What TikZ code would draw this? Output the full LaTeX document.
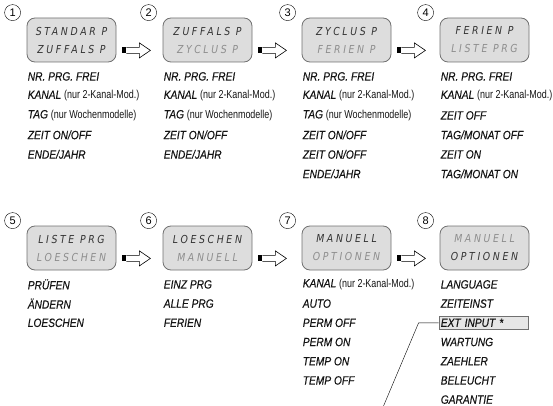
\documentclass[tikz,border=0pt]{standalone}
\usepackage{fontspec}
\setmainfont{Liberation Sans}
\newfontfamily\dispfont[LetterSpace=24,FakeStretch=0.85]{DejaVu Sans}
\newfontfamily\menufont[FakeStretch=0.85,FakeBold=0.4]{Liberation Sans}
\newfontfamily\notefont[FakeStretch=0.78]{Liberation Sans}
\usetikzlibrary{positioning}

\definecolor{lcdfill}{HTML}{DDDDDD}
\definecolor{lcdrim}{HTML}{707070}
\definecolor{segdark}{HTML}{333333}
\definecolor{seglight}{HTML}{8E8E8E}
\definecolor{extfill}{HTML}{E6E6E6}

\newcommand{\liton}[1]{{\color{segdark}#1}}
\newcommand{\litoff}[1]{{\color{seglight}#1}}
\newcommand{\aside}[1]{{\notefont\upshape\fontsize{11.5}{12}\selectfont #1}}

\tikzset{
  lcd/.style={draw=lcdrim, fill=lcdfill, line width=0.8pt, rounded corners=8pt,
    minimum width=89pt, minimum height=44pt, inner sep=0pt, align=center,
    font=\dispfont\itshape\fontsize{11}{18}\selectfont},
  stepnum/.style={circle, draw, fill=white, thin, minimum size=16pt,
    inner sep=0pt, font=\fontsize{11}{11}\selectfont},
  menu/.style={anchor=west, inner sep=0pt, text=black!92,
    font=\menufont\itshape\fontsize{12}{12}\selectfont},
  nextarrow/.pic={
    \fill[black] (0pt,-3pt) rectangle (4pt,3pt);
    \draw[line width=0.6pt, fill=white]
      (4pt,3pt) -- (17pt,3pt) -- (17pt,7.5pt) -- (28pt,0pt)
      -- (17pt,-7.5pt) -- (17pt,-3pt) -- (4pt,-3pt);
  }
}

\begin{document}
\begin{tikzpicture}[x=1pt, y=-1pt]
  \useasboundingbox (0,0) rectangle (553,406);
  % ============= Row 1: displays 1-4 =============
  \node[lcd] (d1) at (71.5,40)  {\liton{STANDAR P}\\\liton{ZUFFALS P}};
  \node[lcd] (d2) at (207.5,40) {\liton{ZUFFALS P}\\\litoff{ZYCLUS P}};
  \node[lcd] (d3) at (346.5,40) {\liton{ZYCLUS P}\\\litoff{FERIEN P}};
  \node[lcd] (d4) at (484.5,40) {\liton{FERIEN P}\\\litoff{LISTE PRG}};
  % ============= Row 2: displays 5-8 =============
  \node[lcd] (d5) at (71.5,248)  {\liton{LISTE PRG}\\\litoff{LOESCHEN}};
  \node[lcd] (d6) at (207.5,248) {\liton{LOESCHEN}\\\litoff{MANUELL}};
  \node[lcd] (d7) at (346.5,248) {\liton{MANUELL}\\\litoff{OPTIONEN}};
  \node[lcd] (d8) at (484.5,248) {\litoff{MANUELL}\\\liton{OPTIONEN}};
  % step numbers
  \foreach \k in {1,...,8}
    \node[stepnum] (n\k) at ([shift={(-14pt,5pt)}]d\k.north west) {\k};
  % --- arrows from one display to the next ---
  \foreach \k in {1,2,3,5,6,7}
    \pic at ([shift={(6pt,12pt)}]d\k.south east) {nextarrow};
  % ============= menu lists =============
  \foreach \txt [count=\i from 0] in {NR. PRG. FREI,
      {KANAL \aside{(nur 2-Kanal-Mod.)}}, {TAG \aside{(nur Wochenmodelle)}},
      ZEIT ON/OFF, ENDE/JAHR}
  {
    \node[menu] (a1-\i) at ([shift={(1pt,{-14pt-19.5pt*\i})}]d1.south west) {\txt};
    \node[menu] (a2-\i) at ([shift={(1pt,{-14pt-19.5pt*\i})}]d2.south west) {\txt};
  }
  \foreach \txt [count=\i from 0] in {NR. PRG. FREI,
      {KANAL \aside{(nur 2-Kanal-Mod.)}}, {TAG \aside{(nur Wochenmodelle)}},
      ZEIT ON/OFF, ZEIT ON/OFF, ENDE/JAHR}
    \node[menu] (a3-\i) at ([shift={(1pt,{-14pt-19.5pt*\i})}]d3.south west) {\txt};
  \foreach \txt [count=\i from 0] in {NR. PRG. FREI,
      {KANAL \aside{(nur 2-Kanal-Mod.)}}, ZEIT OFF, TAG/MONAT OFF,
      ZEIT ON, TAG/MONAT ON}
    \node[menu] (a4-\i) at ([shift={(1pt,{-14pt-19.5pt*\i})}]d4.south west) {\txt};
  \foreach \txt [count=\i from 0] in {PRÜFEN, ÄNDERN, LOESCHEN}
    \node[menu] (a5-\i) at ([shift={(1pt,{-14pt-19.2pt*\i})}]d5.south west) {\txt};
  \foreach \txt [count=\i from 0] in {EINZ PRG, ALLE PRG, FERIEN}
    \node[menu] (a6-\i) at ([shift={(1pt,{-14pt-19.2pt*\i})}]d6.south west) {\txt};
  \foreach \txt [count=\i from 0] in {{KANAL \aside{(nur 2-Kanal-Mod.)}},
      AUTO, PERM OFF, PERM ON, TEMP ON, TEMP OFF}
    \node[menu] (a7-\i) at ([shift={(1pt,{-14pt-19.2pt*\i})}]d7.south west) {\txt};
  \foreach \i/\txt in {0/LANGUAGE, 1/ZEITEINST, 3/WARTUNG, 4/ZAEHLER,
      5/BELEUCHT, 6/GARANTIE}
    \node[menu] (a8-\i) at ([shift={(1pt,{-14pt-19.2pt*\i})}]d8.south west) {\txt};
  % highlighted entry with its leader line
  \node[menu, draw=lcdrim, fill=extfill, thin, inner xsep=2pt, inner ysep=2.5pt,
    text width=85pt] (a8-2) at ([shift={(-1pt,-52.4pt)}]d8.south west) {EXT INPUT *};
  \coordinate (lead) at ([shift={(-55pt,-83pt)}]a8-2.west);
  \draw[thin] (a8-2.west) -- ++(-20,0) -- (lead);
\end{tikzpicture}
\end{document}
